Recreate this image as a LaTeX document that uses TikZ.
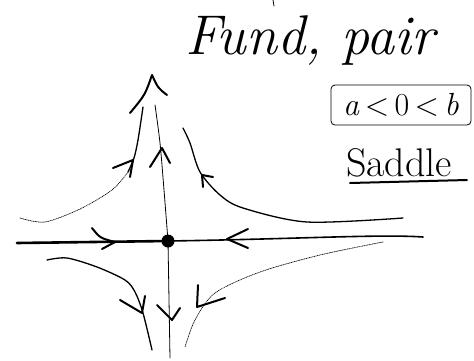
\documentclass[tikz,border=0pt]{standalone}
\usepackage{fontspec}
\usepackage{tikz}
\begin{document}
\begin{tikzpicture}[x=1pt,y=-1pt,line cap=round,line join=round,
  pen/.style={line width=1.3pt},
  thinpen/.style={line width=0.8pt},
  faint/.style={line width=0.7pt,densely dotted},
  thickpen/.style={line width=2.6pt},
  headpen/.style={line width=2pt},
  lbl/.style={inner sep=0pt,anchor=center}]
\useasboundingbox (0,0) rectangle (474,360);
% title and labels
\node[lbl] (title) at (310,40) {\fontsize{56}{60}\selectfont\itshape Fund, pair};
\draw[thinpen] (273,0) -- (274,6);
\node[lbl,draw,line width=0.8pt,rounded corners=4pt,minimum width=140pt,minimum height=40pt] (cond) at (401,105) {\fontsize{32}{36}\selectfont\textit{a}\,<\,0\,<\,\textit{b}};
\node[lbl] (kind) at (399,163) {\fontsize{40}{44}\selectfont Saddle};
\coordinate (ulA) at (350,183);
\coordinate (ulB) at (467,180);
\draw[headpen] (ulA) -- (ulB);
% saddle point
\node[circle,fill=black,minimum size=13pt,inner sep=0pt] (sp) at (168,241) {};
% axes
\coordinate (hl) at (17,243);
\coordinate (hr) at (423,237);
\coordinate (vt) at (155,105);
\coordinate (vb) at (170,358);
\draw[thickpen] (hl) -- (sp.center);
\draw[line width=1.6pt] (sp.center) .. controls (300,239) and (380,234) .. (hr);
\draw[thinpen] plot[smooth] coordinates {(vt) (160,143) (164,190) (sp.center)};
\draw[thinpen] (sp.center) -- (vb);
% arrows on axes
\draw[headpen] (92,228) .. controls (100,238) .. (115,242) -- (102,249);
\draw[headpen] (248,229) -- (227,239) -- (248,248);
\draw[headpen] (130,113) .. controls (145,95) .. (152,75) .. controls (158,88) .. (167,95);
\draw[headpen] (150,167) -- (162,148) -- (170,163);
\draw[headpen] (157,305) -- (172,320) -- (180,308);
% trajectories
\draw[faint] plot[smooth] coordinates {(20,218) (45,222) (80,209) (112,190) (128,172)};
\draw[pen] plot[smooth] coordinates {(128,172) (134,158) (138,140) (143,107)};
\draw[headpen] (113,168) -- (133,160) -- (130,177);
\draw[pen] plot[smooth] coordinates {(183,128) (190,143) (200,172) (220,195) (243,208) (307,222) (403,218)};
\draw[headpen] (203,187) -- (202,175) -- (213,177);
\draw[pen] plot[smooth] coordinates {(47,260) (67,258) (97,267) (125,280) (135,292) (143,313) (152,350)};
\draw[headpen] (120,300) -- (142,313) -- (145,296);
\draw[faint] plot[smooth] coordinates {(383,242) (320,255) (260,272) (215,293) (195,320) (185,347)};
\draw[headpen] (198,285) -- (197,307) -- (225,298);
\end{tikzpicture}
\end{document}
